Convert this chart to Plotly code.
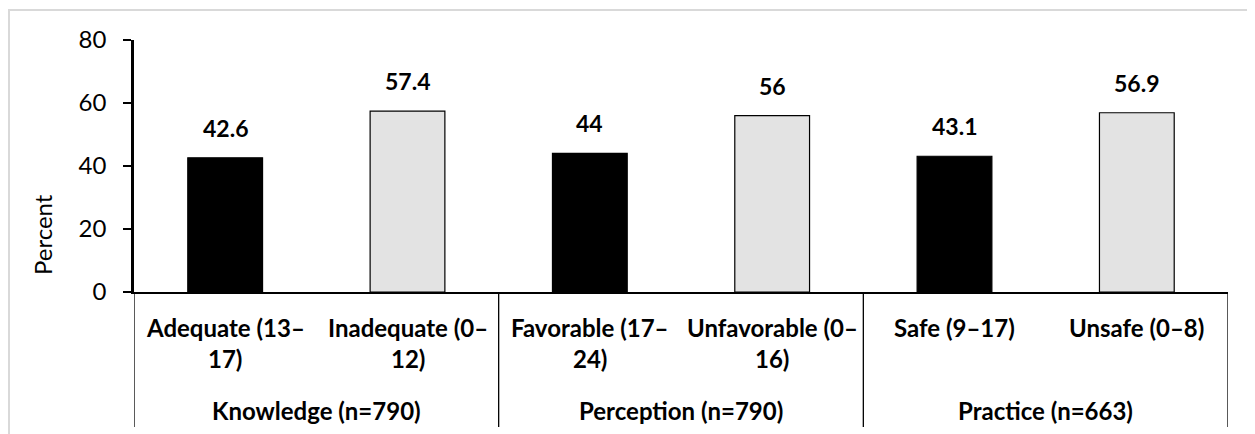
import plotly.graph_objects as go

# ---- data ----
categories = ["Adequate (13–\n17)", "Inadequate (0–\n12)",
              "Favorable (17–\n24)", "Unfavorable (0–\n16)",
              "Safe (9–17)", "Unsafe (0–8)"]
groups = ["Knowledge (n=790)", "Perception (n=790)", "Practice (n=663)"]
values = [42.6, 57.4, 44, 56, 43.1, 56.9]
value_labels = ["42.6", "57.4", "44", "56", "43.1", "56.9"]
y_ticks = [0, 20, 40, 60, 80]
y_title = "Percent"

# ---- layout constants (page pixels; page has an 8px body margin) ----
OFF = 8
W, H = 1255 - OFF, 434 - OFF
PL, PR, PT, PB = 134, 1228, 40, 292      # plot area in page pixels
L, T = PL - OFF, PT - OFF
R = W - (PR - OFF)
B = H - (PB - OFF)
PH = PB - PT
PW = PR - PL


def py(pix_y):
    """page pixel y -> paper y"""
    return (PB - pix_y) / PH


def px(pix_x):
    return (pix_x - PL) / PW


FONT = "Lato, 'Open Sans', sans-serif"
x = list(range(len(categories)))
fills = ["#000000" if i % 2 == 0 else "#e3e3e3" for i in x]

fig = go.Figure()
fig.add_trace(go.Bar(
    x=x, y=values, width=0.41,
    marker=dict(color=fills, line=dict(color="#000000", width=1.2)),
    hoverinfo="skip",
))

annotations = []
# value labels
for i, (v, t) in enumerate(zip(values, value_labels)):
    annotations.append(dict(x=i, y=v, xref="x", yref="y", text=f"<b>{t}</b>",
                            showarrow=False, yanchor="bottom", yshift=14,
                            font=dict(family=FONT, size=23, color="#000")))
# category labels
for i, c in enumerate(categories):
    for j, line in enumerate(c.split("\n")):
        annotations.append(dict(x=i, y=py(327 + 31 * j), xref="x", yref="paper",
                                text=f"<b>{line}</b>", showarrow=False,
                                yanchor="middle",
                                font=dict(family=FONT, size=24, color="#000")))
# group labels
for g, name in enumerate(groups):
    annotations.append(dict(x=2 * g + 0.5, y=py(410), xref="x", yref="paper",
                            text=f"<b>{name}</b>", showarrow=False,
                            yanchor="middle",
                            font=dict(family=FONT, size=24, color="#000")))
# y title
annotations.append(dict(x=px(42), y=py(235), xref="paper", yref="paper",
                        text=y_title, textangle=-90, showarrow=False,
                        xanchor="center", yanchor="middle",
                        font=dict(family=FONT, size=24, color="#000")))

shapes = []
# separators between groups
for s in [-0.5, 1.5, 3.5, 5.5]:
    shapes.append(dict(type="line", xref="x", yref="paper", x0=s, x1=s,
                       y0=0, y1=py(427), line=dict(color="#000", width=1.3)))
# outer light border
shapes.append(dict(type="rect", xref="paper", yref="paper",
                   x0=px(9), x1=px(1270), y0=py(10), y1=py(450),
                   line=dict(color="#d9d9d9", width=2), layer="below"))

fig.update_layout(
    width=W, height=H,
    margin=dict(l=L, r=R, t=T, b=B),
    paper_bgcolor="white", plot_bgcolor="white",
    showlegend=False,
    annotations=annotations,
    shapes=shapes,
    xaxis=dict(range=[-0.5, 5.5], showgrid=False, zeroline=False,
               showticklabels=False, ticks="", showline=True,
               linecolor="#000", linewidth=1.5, fixedrange=True),
    yaxis=dict(range=[0, 80], tickvals=y_ticks, showgrid=False, zeroline=False,
               showline=True, linecolor="#000", linewidth=2.5,
               ticks="outside", ticklen=8, tickwidth=2, tickcolor="#000",
               ticklabelstandoff=12,
               tickfont=dict(family=FONT, size=24, color="#000"),
               fixedrange=True),
)

fig.write_html("out.html")
